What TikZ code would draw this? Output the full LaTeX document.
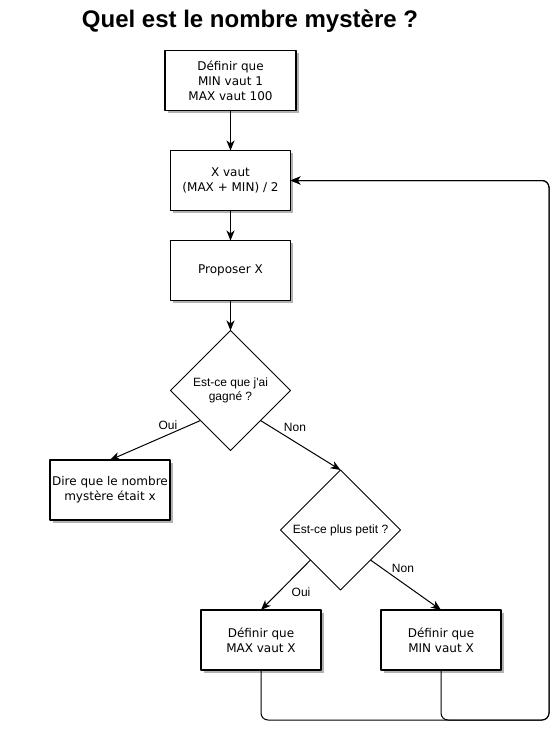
\documentclass[tikz,border=0pt]{standalone}
\usepackage{fontspec}
\setmainfont{DejaVu Sans}
\newfontfamily\helv{Liberation Sans}
\usetikzlibrary{shapes.geometric,shadows,arrows.meta}

\begin{document}
\begin{tikzpicture}[x=1pt,y=-1pt,line join=round,
  box/.style={draw,line width=1.6pt,fill=white,minimum width=120pt,minimum height=60pt,
    inner sep=0pt,outer sep=0pt,align=center,font=\fontsize{12}{15}\selectfont,
    drop shadow={shadow xshift=2.5pt,shadow yshift=-2.5pt,fill=black!30,opacity=1}},
  test/.style={draw,diamond,line width=.8pt,minimum width=120pt,minimum height=120pt,
    inner sep=0pt,outer sep=0pt,align=center,font=\helv\fontsize{12}{14}\selectfont},
  lbl/.style={font=\helv\fontsize{12}{14}\selectfont,inner sep=0pt},
  arr/.style={line width=1pt,-{Stealth[length=10pt,width=8pt,inset=3pt]}}]
  \useasboundingbox (0,0) rectangle (559,729);
  \node (title) at (250,21) {\helv\bfseries\fontsize{24}{28}\selectfont Quel est le nombre mystère ?};
  \node[box,minimum width=131pt] (init) at (230.5,80.5) {Définir que\\MIN vaut 1\\MAX vaut 100};
  \node[box] (calc) at (230.5,180.5) {X vaut\\(MAX + MIN) / 2};
  \node[box] (prop) at (230.5,270.5) {Proposer X};
  \node[test] (won) at (230.5,390.5) {Est-ce que j\textquotesingle ai\\gagné ?};
  \node[box] (say) at (110,490) {Dire que le nombre\\mystère était x};
  \node[test] (less) at (340.5,530) {Est-ce plus petit ?};
  \node[box] (setmax) at (261,640) {Définir que\\MAX vaut X};
  \node[box] (setmin) at (441,640) {Définir que\\MIN vaut X};
  \coordinate (corner) at (549,720);
  \draw[arr] (init) -- (calc);
  \draw[arr] (calc) -- (prop);
  \draw[arr] (prop) -- (won);
  \draw[arr] (won.south west) -- (say.north);
  \draw[arr] (won.south east) -- (less.north);
  \draw[arr] (less.south west) -- (setmax.north);
  \draw[arr] (less.south east) -- (setmin.north);
  \draw[arr,rounded corners=7pt] (setmax.south) |- (corner) |- (calc.east);
  \draw[arr,rounded corners=7pt] (setmin.south) |- (corner) |- (calc.east);
  \node[lbl] (oui1) at (168,425) {Oui};
  \node[lbl] (non1) at (295,427) {Non};
  \node[lbl] (oui2) at (301,592) {Oui};
  \node[lbl] (non2) at (403,568) {Non};
\end{tikzpicture}
\end{document}
